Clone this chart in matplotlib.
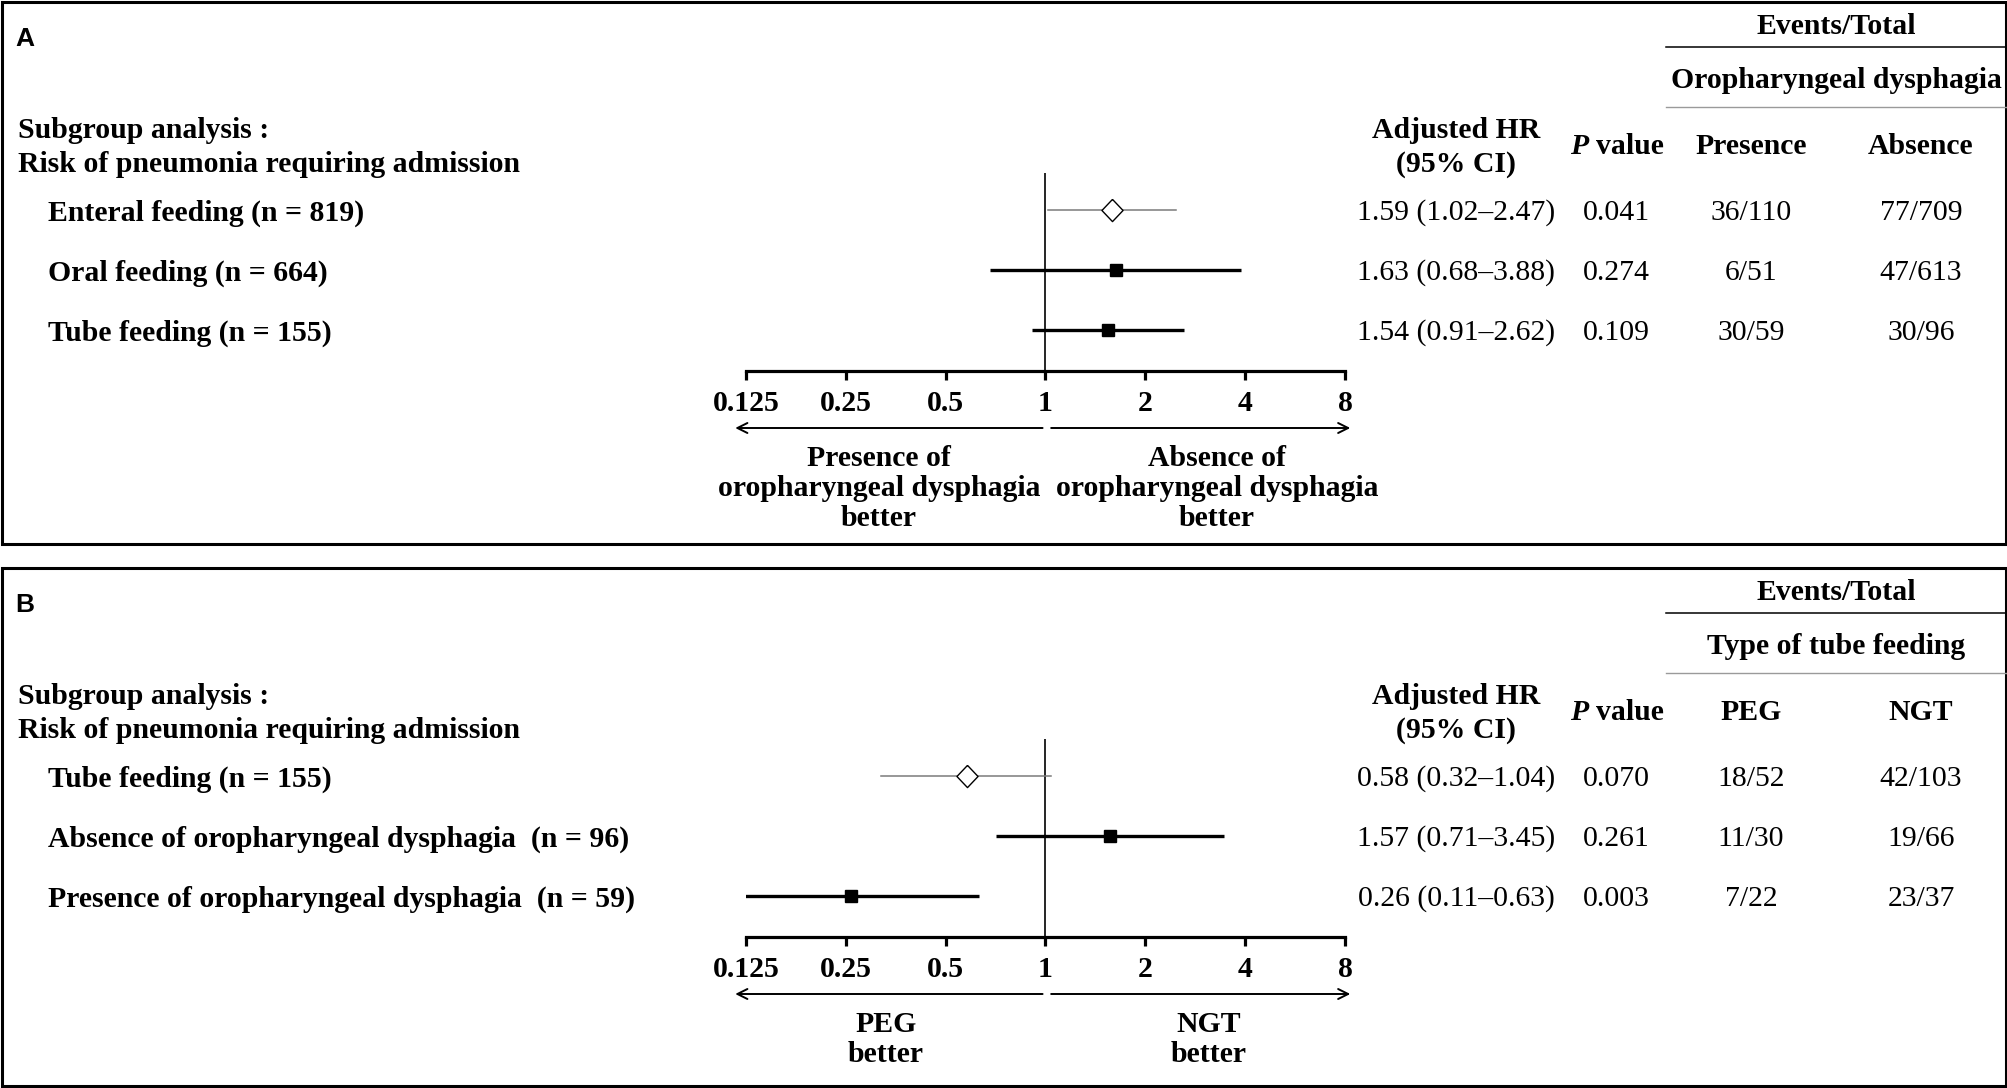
import numpy as np
import matplotlib
matplotlib.use('Agg')
import matplotlib.pyplot as plt
from matplotlib.patches import Rectangle
from matplotlib.ticker import NullLocator
from matplotlib.transforms import blended_transform_factory

# panel A data
labels_a = ['Enteral feeding (n = 819)', 'Oral feeding (n = 664)', 'Tube feeding (n = 155)']
hr_a = [1.59, 1.63, 1.54]
lo_a = [1.02, 0.68, 0.91]
hi_a = [2.47, 3.88, 2.62]
p_a = ['0.041', '0.274', '0.109']
ev1_a = ['36/110', '6/51', '30/59']
ev2_a = ['77/709', '47/613', '30/96']

# panel B data
labels_b = ['Tube feeding (n = 155)',
            'Absence of oropharyngeal dysphagia  (n = 96)',
            'Presence of oropharyngeal dysphagia  (n = 59)']
hr_b = [0.58, 1.57, 0.26]
lo_b = [0.32, 0.71, 0.11]
hi_b = [1.04, 3.45, 0.63]
p_b = ['0.070', '0.261', '0.003']
ev1_b = ['18/52', '11/30', '7/22']
ev2_b = ['42/103', '19/66', '23/37']

ticks = [0.125, 0.25, 0.5, 1, 2, 4, 8]
tick_labels = ['0.125', '0.25', '0.5', '1', '2', '4', '8']

W, H = 2008, 1088
SERIF = 'Liberation Serif'
FS = 21.4

fig = plt.figure(figsize=(W / 100, H / 100), dpi=100)
ov = fig.add_axes([0, 0, 1, 1])
ov.set_xlim(0, W)
ov.set_ylim(H, 0)
ov.axis('off')

diamond = [(0, 1), (0.95, 0), (0, -1), (-0.95, 0), (0, 1)]


def txt(x, y, s, bold=True, **kw):
    kw.setdefault('ha', 'center')
    # va='center' sits a little high for this font, nudge down
    ov.text(x, y + 3, s, family=SERIF, fontsize=FS, va='center',
            fontweight='bold' if bold else 'normal', **kw)


def panel(dy, bottom, letter, labels, hr, lo, hi, pv, ev1, ev2,
          group, col1, col2, left_lines, right_lines, left_x, right_x):
    ov.add_patch(Rectangle((2, 2 + dy), 2004, bottom - 2 - dy, fill=False,
                           lw=2.2, ec='black'))
    ov.text(15, 39 + dy, letter, family='Liberation Sans', fontweight='bold',
            fontsize=19, va='center', ha='left')
    txt(18, 127 + dy, 'Subgroup analysis :', ha='left')
    txt(18, 161 + dy, 'Risk of pneumonia requiring admission', ha='left')

    # table headers
    txt(1836, 24 + dy, 'Events/Total')
    ov.plot([1666, 2006], [47 + dy, 47 + dy], color='black', lw=1.1)
    txt(1836, 78 + dy, group)
    ov.plot([1666, 2006], [107 + dy, 107 + dy], color='#9a9a9a', lw=1.0)
    txt(1456, 127 + dy, 'Adjusted HR')
    txt(1456, 161 + dy, '(95% CI)')
    ov.text(1570, 146 + dy, 'P', family=SERIF, fontsize=FS, fontweight='bold',
            fontstyle='italic', va='center', ha='left')
    txt(1596, 143 + dy, 'value', ha='left')
    txt(1751, 143 + dy, col1)
    txt(1921, 143 + dy, col2)

    rows_y = [210, 270, 330]
    for i in range(3):
        y = rows_y[i] + dy
        txt(48, y, labels[i], ha='left')
        txt(1456, y, f'{hr[i]:.2f} ({lo[i]:.2f}\u2013{hi[i]:.2f})', bold=False)
        txt(1616, y, pv[i], bold=False)
        txt(1751, y, ev1[i], bold=False)
        txt(1921, y, ev2[i], bold=False)

    # forest axes
    ax = fig.add_axes([746 / W, 1 - (371 + dy) / H, (1345 - 746) / W, (371 - 173) / H])
    ax.set_xscale('log', base=2)
    ax.set_xlim(0.125, 8)
    ax.set_ylim(2.69, -0.62)
    ax.patch.set_alpha(0)
    for s in ['top', 'left', 'right']:
        ax.spines[s].set_visible(False)
    ax.spines['bottom'].set_linewidth(2.3)
    ax.set_xticks(ticks)
    ax.set_xticklabels(tick_labels, fontfamily=SERIF, fontweight='bold', fontsize=FS)
    ax.xaxis.set_minor_locator(NullLocator())
    ax.tick_params(axis='x', direction='out', length=6.5, width=2.3, pad=7)
    ax.set_yticks([])
    ax.axvline(1, color='black', lw=1.2, zorder=1)
    for i in range(3):
        if i == 0:
            ax.plot([lo[i], hi[i]], [i, i], color='#7a7a7a', lw=1.1, zorder=2)
            ax.plot(hr[i], i, marker=diamond, ms=16, mfc='white', mec='black',
                    mew=1.0, zorder=3)
        else:
            ax.plot([lo[i], hi[i]], [i, i], color='black', lw=2.4,
                    solid_capstyle='butt', zorder=2)
            ax.plot(hr[i], i, marker='s', ms=8.5, color='black', zorder=3)

    tr = blended_transform_factory(ax.transData, ov.transData)
    ya = 428 + dy
    arr = dict(arrowstyle='->', lw=1.4, color='black', mutation_scale=18,
               shrinkA=0, shrinkB=0)
    ax.annotate('', xy=(0.116, ya), xytext=(0.98, ya), xycoords=tr,
                textcoords=tr, arrowprops=arr, annotation_clip=False)
    ax.annotate('', xy=(8.3, ya), xytext=(1.04, ya), xycoords=tr,
                textcoords=tr, arrowprops=arr, annotation_clip=False)
    for k, s in enumerate(left_lines):
        txt(left_x, 455 + dy + 30 * k, s)
    for k, s in enumerate(right_lines):
        txt(right_x, 455 + dy + 30 * k, s)


panel(0, 544, 'A', labels_a, hr_a, lo_a, hi_a, p_a, ev1_a, ev2_a,
      'Oropharyngeal dysphagia', 'Presence', 'Absence',
      ['Presence of', 'oropharyngeal dysphagia', 'better'],
      ['Absence of', 'oropharyngeal dysphagia', 'better'], 879, 1217)
panel(566, 1086, 'B', labels_b, hr_b, lo_b, hi_b, p_b, ev1_b, ev2_b,
      'Type of tube feeding', 'PEG', 'NGT',
      ['PEG', 'better'], ['NGT', 'better'], 886, 1209)

fig.savefig('out.png', dpi=100, facecolor='white')
